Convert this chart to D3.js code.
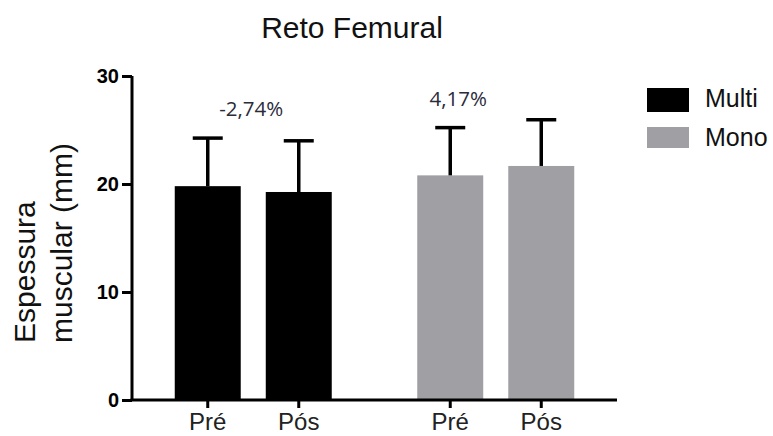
<!DOCTYPE html>
<html>
<head>
<meta charset="utf-8">
<script src="https://cdn.jsdelivr.net/npm/d3@7"></script>
<style>
  html, body { margin: 0; padding: 0; background: #fff; }
  svg { display: block; }
</style>
</head>
<body>
<script>
// ---- data ----
const groups = ["Multi", "Mono"];
const phases = ["Pré", "Pós"];
const means = { Multi: [19.80, 19.26], Mono: [20.80, 21.67] };
const sds   = { Multi: [4.45, 4.74],   Mono: [4.42, 4.28] };
const changeLabels = ["-2,74%", "4,17%"];
const yTicks = [0, 10, 20, 30];
const colors = { Multi: "#000000", Mono: "#a09fa4" };
const title = "Reto Femural";
const yLabelLines = ["Espessura", "muscular (mm)"];

// ---- layout ----
const W = 773, H = 436;
const x0 = 132, x1 = 617, yBottom = 400, yTop = 76;
const font = "'Liberation Sans', Arial, Helvetica, sans-serif";

const svg = d3.select("body").append("svg").attr("width", W).attr("height", H);

const y = d3.scaleLinear().domain([0, 30]).range([yBottom, yTop]);
const xg = d3.scalePoint().domain(groups).range([x0, x1]).padding(0.5);
const xi = d3.scaleBand().domain(phases).range([-78.5, 78.5]).paddingInner(0.275);

const rows = [];
groups.forEach(g => phases.forEach((p, i) => rows.push({ g, p, m: means[g][i], sd: sds[g][i] })));

// bars
svg.append("g").selectAll("rect").data(rows).join("rect")
  .attr("x", d => xg(d.g) + xi(d.p))
  .attr("y", d => y(d.m))
  .attr("width", xi.bandwidth())
  .attr("height", d => y(0) - y(d.m))
  .attr("fill", d => colors[d.g]);

// error bars (upper only)
const eb = svg.append("g").attr("stroke", "#000").attr("stroke-width", 3.5).attr("fill", "none");
rows.forEach(d => {
  const cx = xg(d.g) + xi(d.p) + xi.bandwidth() / 2;
  eb.append("line").attr("x1", cx).attr("x2", cx).attr("y1", y(d.m)).attr("y2", y(d.m + d.sd));
  eb.append("line").attr("x1", cx - 15).attr("x2", cx + 15).attr("y1", y(d.m + d.sd)).attr("y2", y(d.m + d.sd));
});

// y axis
const yAxis = svg.append("g").attr("transform", `translate(${x0},0)`)
  .call(d3.axisLeft(y).tickValues(yTicks).tickSize(10).tickPadding(3).tickFormat(d3.format("d")));
yAxis.select(".domain").attr("stroke", "#000").attr("stroke-width", 3).attr("d", `M0,${yTop}V${yBottom}`);
yAxis.selectAll(".tick line").attr("stroke", "#000").attr("stroke-width", 3);
yAxis.selectAll(".tick text").attr("font-family", font).attr("font-size", 20).attr("font-weight", "bold").attr("fill", "#000");

// x axis
const xa = svg.append("g").attr("transform", `translate(0,${yBottom})`);
xa.append("line").attr("x1", x0 - 1.5).attr("x2", x1).attr("y1", 0).attr("y2", 0)
  .attr("stroke", "#000").attr("stroke-width", 3);
rows.forEach(d => {
  const cx = xg(d.g) + xi(d.p) + xi.bandwidth() / 2;
  xa.append("line").attr("x1", cx).attr("x2", cx).attr("y1", 0).attr("y2", 8)
    .attr("stroke", "#000").attr("stroke-width", 3);
  xa.append("text").attr("x", cx).attr("y", 30).attr("text-anchor", "middle")
    .attr("font-family", font).attr("font-size", 24).attr("fill", "#222").text(d.p);
});

// change annotations
groups.forEach((g, gi) => {
  const top = means[g][0] + sds[g][0];
  const cx = gi === 0 ? xg(g) - 2 : xg(g) + xi("Pré") + xi.bandwidth() / 2 + 8;
  svg.append("text").attr("x", cx).attr("y", y(top) - 22).attr("text-anchor", "middle")
    .attr("font-family", "'Open Sans', 'Liberation Sans', sans-serif").attr("font-size", 20.5)
    .attr("fill", "#2b2b3a").text(changeLabels[gi]);
});

// title
svg.append("text").attr("x", 352).attr("y", 38).attr("text-anchor", "middle")
  .attr("font-family", font).attr("font-size", 30).attr("fill", "#111").text(title);

// y label
yLabelLines.forEach((t, i) => {
  svg.append("text").attr("transform", `translate(${35 + i * 37},343) rotate(-90)`)
    .attr("text-anchor", "start").attr("font-family", font).attr("font-size", 30)
    .attr("fill", "#111").text(t);
});

// legend
const leg = svg.append("g");
groups.forEach((g, i) => {
  leg.append("rect").attr("x", 647).attr("y", 88 + i * 39).attr("width", 42).attr("height", i === 0 ? 24 : 21)
    .attr("fill", colors[g]);
  leg.append("text").attr("x", 705).attr("y", 107 + i * 39)
    .attr("font-family", font).attr("font-size", 25).attr("fill", "#111").text(g);
});
</script>
</body>
</html>
